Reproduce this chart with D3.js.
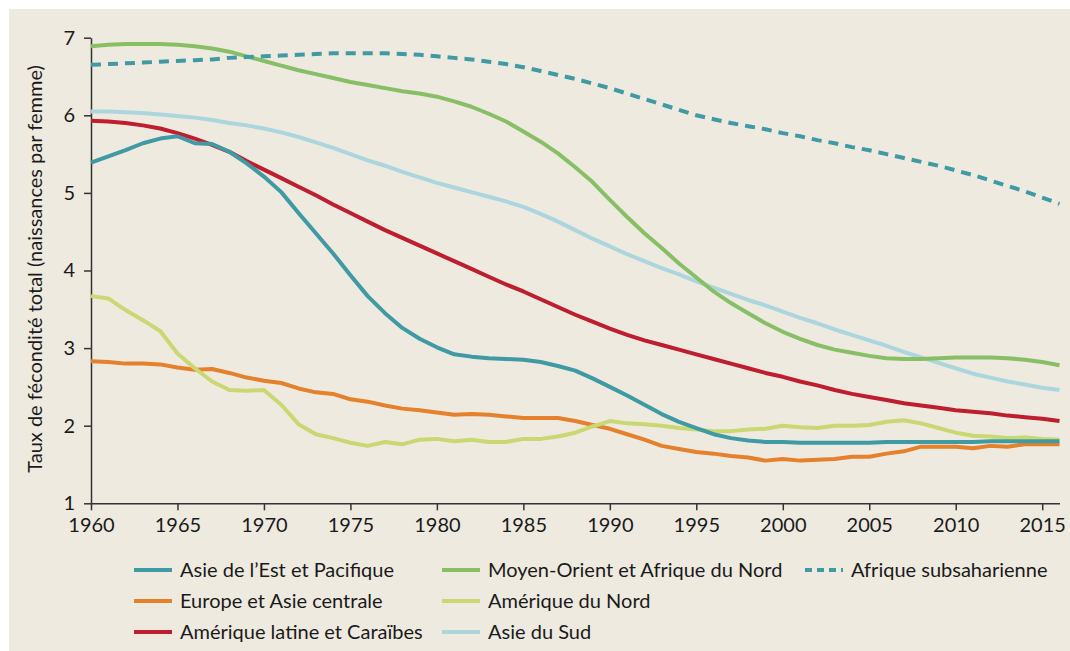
<!DOCTYPE html>
<html>
<head>
<meta charset="utf-8">
<script src="https://cdn.jsdelivr.net/npm/d3@7"></script>
<style>
  body { margin: 0; background: #fff; }
  text { font-family: Lato, "Open Sans", sans-serif; fill: #1a1a1a; }
</style>
</head>
<body>
<svg id="chart" width="1070" height="651"></svg>
<script>
// years 1960..2016
const years = d3.range(1960, 2017);

const eastAsia = [5.39, 5.47, 5.55, 5.64, 5.70, 5.73, 5.64, 5.63, 5.53, 5.38,
  5.21, 5.01, 4.74, 4.48, 4.22, 3.94, 3.67, 3.45, 3.26, 3.12,
  3.01, 2.92, 2.89, 2.87, 2.86, 2.85, 2.82, 2.77, 2.71, 2.61,
  2.50, 2.39, 2.27, 2.15, 2.05, 1.97, 1.89, 1.84, 1.81, 1.79,
  1.79, 1.78, 1.78, 1.78, 1.78, 1.78, 1.79, 1.79, 1.79, 1.79,
  1.79, 1.79, 1.80, 1.80, 1.80, 1.80, 1.80];

const mena = [6.89, 6.91, 6.92, 6.92, 6.92, 6.91, 6.89, 6.86, 6.82, 6.76,
  6.70, 6.64, 6.58, 6.53, 6.48, 6.43, 6.39, 6.35, 6.31, 6.28,
  6.24, 6.18, 6.11, 6.02, 5.92, 5.79, 5.66, 5.51, 5.33, 5.14,
  4.91, 4.69, 4.48, 4.29, 4.09, 3.91, 3.73, 3.58, 3.45, 3.32,
  3.21, 3.12, 3.04, 2.98, 2.94, 2.90, 2.87, 2.86, 2.86, 2.87,
  2.88, 2.88, 2.88, 2.87, 2.85, 2.82, 2.78];

const ssa = [6.65, 6.66, 6.67, 6.68, 6.69, 6.70, 6.71, 6.72, 6.74, 6.75,
  6.76, 6.77, 6.78, 6.79, 6.80, 6.80, 6.80, 6.80, 6.79, 6.78,
  6.76, 6.74, 6.72, 6.69, 6.66, 6.62, 6.57, 6.52, 6.47, 6.41,
  6.35, 6.28, 6.21, 6.14, 6.07, 6.00, 5.95, 5.90, 5.86, 5.82,
  5.77, 5.73, 5.68, 5.64, 5.59, 5.55, 5.50, 5.45, 5.40, 5.35,
  5.29, 5.23, 5.16, 5.09, 5.02, 4.94, 4.86];

const europe = [2.83, 2.82, 2.80, 2.80, 2.79, 2.75, 2.72, 2.73, 2.68, 2.62,
  2.58, 2.55, 2.48, 2.43, 2.41, 2.34, 2.31, 2.26, 2.22, 2.20,
  2.17, 2.14, 2.15, 2.14, 2.12, 2.10, 2.10, 2.10, 2.06, 2.01,
  1.96, 1.89, 1.82, 1.74, 1.70, 1.66, 1.64, 1.61, 1.59, 1.55,
  1.57, 1.55, 1.56, 1.57, 1.60, 1.60, 1.64, 1.67, 1.73, 1.73,
  1.73, 1.71, 1.74, 1.73, 1.76, 1.76, 1.76];

const northAmerica = [3.67, 3.64, 3.49, 3.36, 3.22, 2.93, 2.74, 2.57, 2.46, 2.45,
  2.46, 2.27, 2.02, 1.89, 1.84, 1.78, 1.74, 1.79, 1.76, 1.82,
  1.83, 1.80, 1.82, 1.79, 1.79, 1.83, 1.83, 1.86, 1.91, 1.99,
  2.06, 2.03, 2.02, 2.00, 1.97, 1.95, 1.93, 1.93, 1.95, 1.96,
  2.00, 1.98, 1.97, 2.00, 2.00, 2.01, 2.05, 2.07, 2.03, 1.97,
  1.91, 1.87, 1.86, 1.84, 1.85, 1.83, 1.82];

const latinAmerica = [5.93, 5.92, 5.90, 5.87, 5.83, 5.77, 5.70, 5.62, 5.53, 5.41,
  5.30, 5.19, 5.08, 4.97, 4.85, 4.74, 4.63, 4.52, 4.42, 4.32,
  4.22, 4.12, 4.02, 3.92, 3.82, 3.73, 3.63, 3.53, 3.43, 3.34,
  3.25, 3.17, 3.10, 3.04, 2.98, 2.92, 2.86, 2.80, 2.74, 2.68,
  2.63, 2.57, 2.52, 2.46, 2.41, 2.37, 2.33, 2.29, 2.26, 2.23,
  2.20, 2.18, 2.16, 2.13, 2.11, 2.09, 2.06];

const southAsia = [6.05, 6.05, 6.04, 6.03, 6.01, 5.99, 5.97, 5.94, 5.90, 5.87,
  5.83, 5.78, 5.72, 5.65, 5.58, 5.50, 5.42, 5.35, 5.27, 5.20,
  5.13, 5.07, 5.01, 4.95, 4.89, 4.82, 4.73, 4.63, 4.52, 4.41,
  4.31, 4.21, 4.12, 4.03, 3.95, 3.86, 3.78, 3.70, 3.62, 3.55,
  3.47, 3.39, 3.32, 3.24, 3.17, 3.10, 3.03, 2.95, 2.88, 2.81,
  2.74, 2.67, 2.62, 2.57, 2.53, 2.49, 2.46];

const xTicks = [1960, 1965, 1970, 1975, 1980, 1985, 1990, 1995, 2000, 2005, 2010, 2015];
const yTicks = [1, 2, 3, 4, 5, 6, 7];
const yTitle = "Taux de fécondité total (naissances par femme)";

const series = [
  { name: "Europe et Asie centrale", values: europe, color: "#e5802c", dash: null, col: 0, row: 1 },
  { name: "Amérique du Nord", values: northAmerica, color: "#c9d872", dash: null, col: 1, row: 1 },
  { name: "Asie du Sud", values: southAsia, color: "#abd6de", dash: null, col: 1, row: 2 },
  { name: "Amérique latine et Caraïbes", values: latinAmerica, color: "#be1e2d", dash: null, col: 0, row: 2 },
  { name: "Moyen-Orient et Afrique du Nord", values: mena, color: "#88bf66", dash: null, col: 1, row: 0 },
  { name: "Asie de l’Est et Pacifique", values: eastAsia, color: "#3f9aa3", dash: null, col: 0, row: 0 },
  { name: "Afrique subsaharienne", values: ssa, color: "#3f9aa3", dash: "10,7", col: 2, row: 0 }
];

const svg = d3.select("#chart");

svg.append("rect")
  .attr("x", 9).attr("y", 9)
  .attr("width", 1061).attr("height", 642)
  .attr("fill", "#eeeae0");

const x = d3.scaleLinear().domain([1960, 2016]).range([91, 1059.5]);
const y = d3.scaleLinear().domain([1, 7]).range([503.3, 37.7]);

const xAxis = svg.append("g")
  .attr("transform", "translate(0,503.3)")
  .call(d3.axisBottom(x).tickValues(xTicks).tickFormat(d3.format("d"))
    .tickSize(7).tickSizeOuter(0).tickPadding(8));

const yAxis = svg.append("g")
  .attr("transform", "translate(91,0)")
  .call(d3.axisLeft(y).tickValues(yTicks).tickFormat(d3.format("d"))
    .tickSize(7).tickSizeOuter(0).tickPadding(9));

[xAxis, yAxis].forEach(g => {
  g.select(".domain").attr("stroke", "#333").attr("stroke-width", 1.5);
  g.selectAll(".tick line").attr("stroke", "#333").attr("stroke-width", 1.5);
  g.selectAll(".tick text").style("font-size", "20px").attr("fill", "#1a1a1a");
});

svg.append("text")
  .attr("transform", "translate(42,269) rotate(-90)")
  .attr("text-anchor", "middle")
  .style("font-size", "20px")
  .text(yTitle);

const line = d3.line()
  .x((d, i) => x(years[i]))
  .y(d => y(d));

svg.append("g").selectAll("path")
  .data(series)
  .join("path")
  .attr("d", d => line(d.values))
  .attr("fill", "none")
  .attr("stroke", d => d.color)
  .attr("stroke-width", 4)
  .attr("stroke-linejoin", "round")
  .attr("stroke-dasharray", d => d.dash);

// legend
const colX = [134, 442, 805];
const rowY = [570, 601, 632];
const legend = svg.append("g").selectAll("g")
  .data(series)
  .join("g")
  .attr("transform", d => `translate(${colX[d.col]},${rowY[d.row]})`);

legend.append("line")
  .attr("x1", 0).attr("x2", 38)
  .attr("stroke", d => d.color)
  .attr("stroke-width", 4)
  .attr("stroke-dasharray", d => d.dash ? "7,5" : null);

legend.append("text")
  .attr("x", 46)
  .attr("dy", "0.35em")
  .style("font-size", "20px")
  .text(d => d.name);
</script>
</body>
</html>
